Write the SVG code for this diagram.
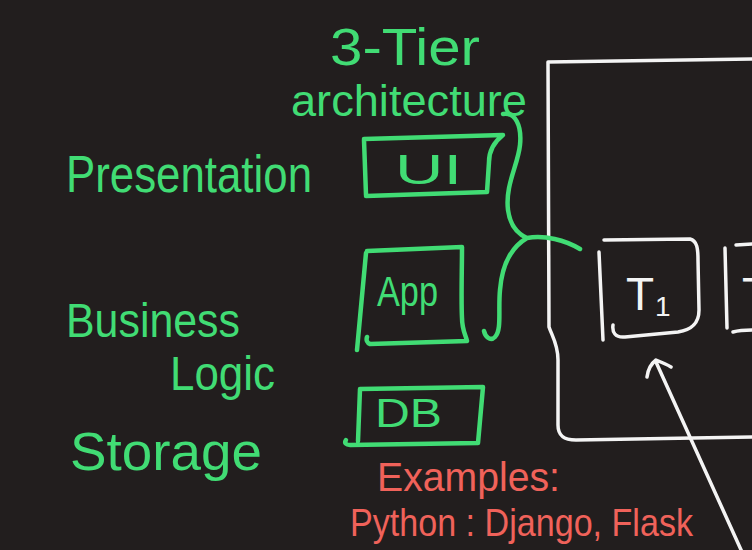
<svg xmlns="http://www.w3.org/2000/svg" width="752" height="550" viewBox="0 0 752 550">
<style>
.g{fill:#41dc74;font-family:"Liberation Sans","DejaVu Sans",sans-serif}
.r{fill:#f0625a;font-family:"Liberation Sans","DejaVu Sans",sans-serif}
.w{fill:#f4f4f4;font-family:"Liberation Sans","DejaVu Sans",sans-serif}
.gs{fill:none;stroke:#41dc74;stroke-width:4.5;stroke-linecap:round;stroke-linejoin:round}
.ws{fill:none;stroke:#f4f4f4;stroke-width:3.5;stroke-linecap:round;stroke-linejoin:round}
</style>
<rect x="0" y="0" width="752" height="550" fill="#221e1e"/>

<g id="title">
<text class="g" x="330" y="65" font-size="52" textLength="150" lengthAdjust="spacingAndGlyphs">3-Tier</text>
<text class="g" x="291" y="116" font-size="44" textLength="236" lengthAdjust="spacingAndGlyphs">architecture</text>
</g>

<g id="labels">
<text class="g" x="66" y="192" font-size="52" textLength="246" lengthAdjust="spacingAndGlyphs">Presentation</text>
<text class="g" x="66" y="337" font-size="48" textLength="174" lengthAdjust="spacingAndGlyphs">Business</text>
<text class="g" x="170" y="390" font-size="48" textLength="105" lengthAdjust="spacingAndGlyphs">Logic</text>
<text class="g" x="70" y="470" font-size="54" textLength="192" lengthAdjust="spacingAndGlyphs">Storage</text>
</g>

<g id="ui">
<path class="gs" d="M364,139 L503,135 C494,142 489,150 489,162 L487,192 L366,196 M364,140 L366,195"/>
<text class="g" x="395" y="184" font-size="43" textLength="67" lengthAdjust="spacingAndGlyphs">UI</text>
</g>

<g id="app">
<path class="gs" d="M367,251 L462,247 C462,270 461,300 462,318 C462,330 466,336 467,341 L370,344 C367,343 366,340 367,337 M366,253 L357,350"/>
<text class="g" x="377" y="306" font-size="42" textLength="61" lengthAdjust="spacingAndGlyphs">App</text>
</g>

<g id="db">
<path class="gs" d="M360,389 L483,387 L478,443 L350,445 C346,445 344,443 346,440 M360,389 L358,441"/>
<text class="g" x="375" y="427" font-size="40" textLength="67" lengthAdjust="spacingAndGlyphs">DB</text>
</g>

<g id="examples">
<text class="r" x="377" y="491" font-size="40" textLength="183" lengthAdjust="spacingAndGlyphs">Examples:</text>
<text class="r" x="350" y="536" font-size="39" textLength="343" lengthAdjust="spacingAndGlyphs">Python : Django, Flask</text>
</g>

<g id="container">
<path class="ws" d="M548,62 L752,59 M548,62 L549,327 C552,336 558,344 558,360 L558,425 C558,435 563,440 576,440 L752,437"/>
</g>

<g id="t1">
<path class="ws" d="M599,252 L603,340 M604,240 L690,239 C697,241 698,248 698,260 L699,310 C699,325 690,330 678,332 L625,337 C615,338 612,332 613,325"/>
<text class="w" x="626" y="310" font-size="46">T<tspan font-size="28" dx="1" dy="6">1</tspan></text>
</g>

<g id="t2">
<path class="ws" d="M725,248 L727,328 M736,245 L752,244 M733,332 C740,330 746,330 752,330"/>
<text class="w" x="742" y="310" font-size="46">T</text>
</g>

<g id="connectors">
<path class="gs" d="M503,114 C515,112 522,125 520,145 C518,165 505,185 508,210 C510,225 518,234 527,238 C510,248 502,265 500,290 C498,310 502,330 495,337 C490,342 485,336 484,331 M527,238 C545,235 565,240 580,249"/>
<path class="ws" d="M742,552 L656,362 M647,377 C648,369 652,363 656,360 C661,362 666,364 671,367"/>
</g>
</svg>
